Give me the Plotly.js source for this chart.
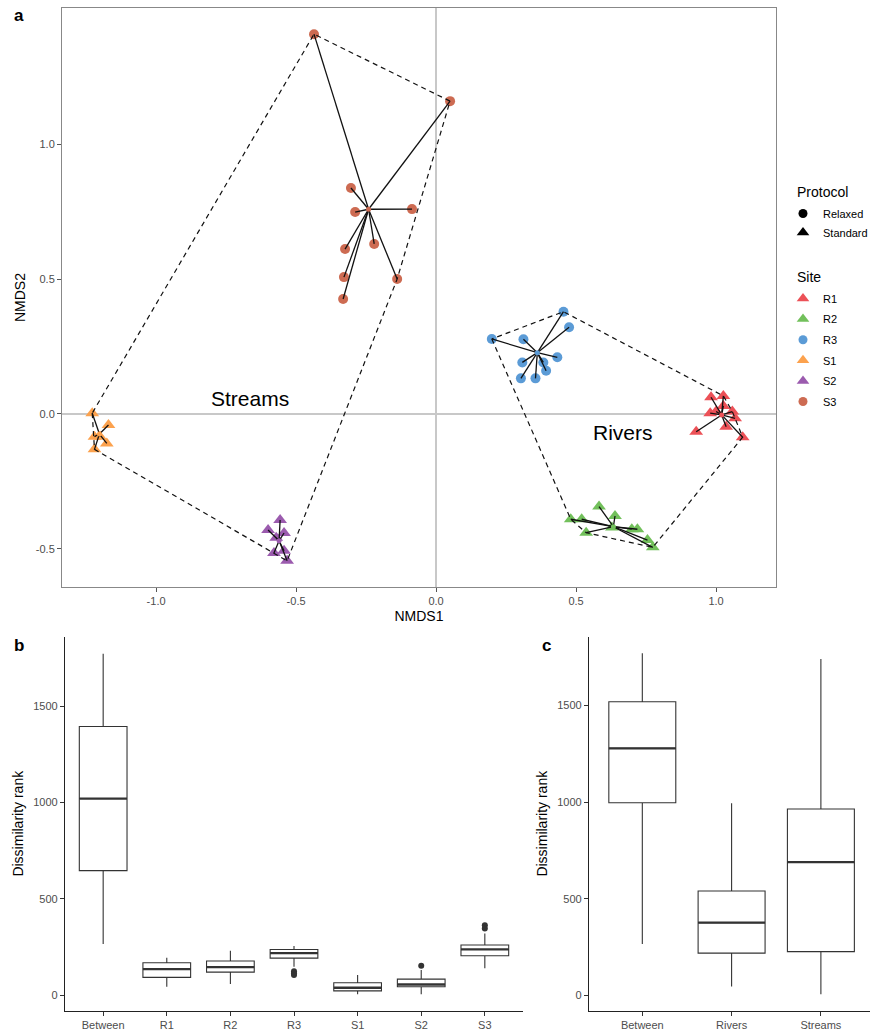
<!DOCTYPE html>
<html>
<head>
<meta charset="utf-8">
<script src="https://cdn.plot.ly/plotly-3.0.1.min.js"></script>
<style>html,body{margin:0;padding:0;background:#fff;}#chart{width:870px;height:1030px;}</style>
</head>
<body>
<div id="chart"></div>
<script>
// ---------- Panel a: NMDS ordination ----------
const siteNames = ['R1', 'R2', 'R3', 'S1', 'S2', 'S3'];
const siteColors = ['#EC5157', '#72C05B', '#5B9BD6', '#FCA24E', '#9B5BAE', '#CD6B52'];
const siteProtocol = ['Standard', 'Standard', 'Relaxed', 'Standard', 'Standard', 'Relaxed'];
const siteHabitat = ['Rivers', 'Rivers', 'Rivers', 'Streams', 'Streams', 'Streams'];
const protocolNames = ['Relaxed', 'Standard'];
const protocolSymbols = ['circle', 'triangle-up'];
const legendTitles = ['Protocol', 'Site'];

const r1X = [0.982, 1.026, 1.026, 0.979, 1.000, 1.058, 1.068, 1.036, 0.929, 1.095];
const r1Y = [0.062, 0.067, 0.030, 0.003, 0.009, 0.009, -0.016, -0.047, -0.066, -0.086];
const r2X = [0.582, 0.481, 0.520, 0.639, 0.536, 0.628, 0.699, 0.719, 0.755, 0.774];
const r2Y = [-0.343, -0.390, -0.390, -0.378, -0.440, -0.421, -0.427, -0.427, -0.467, -0.494];
const r3X = [0.455, 0.475, 0.199, 0.312, 0.433, 0.308, 0.383, 0.393, 0.303, 0.355];
const r3Y = [0.379, 0.321, 0.278, 0.277, 0.210, 0.191, 0.191, 0.160, 0.132, 0.132];
const s1X = [-1.228, -1.170, -1.220, -1.200, -1.176, -1.220];
const s1Y = [0.003, -0.041, -0.084, -0.084, -0.109, -0.131];
const s2X = [-0.557, -0.600, -0.543, -0.571, -0.579, -0.543, -0.532];
const s2Y = [-0.393, -0.430, -0.441, -0.459, -0.515, -0.507, -0.544];
const s3X = [-0.436, 0.050, -0.304, -0.289, -0.086, -0.325, -0.221, -0.329, -0.139, -0.332];
const s3Y = [1.407, 1.159, 0.837, 0.748, 0.759, 0.611, 0.630, 0.507, 0.500, 0.426];

const habitatLabels = ['Streams', 'Rivers'];
const habitatLabelX = [-0.664, 0.668];
const habitatLabelY = [0.059, -0.070];

const nmdsXTicks = [-1.0, -0.5, 0.0, 0.5, 1.0];
const nmdsXTickText = ['-1.0', '-0.5', '0.0', '0.5', '1.0'];
const nmdsYTicks = [-0.5, 0.0, 0.5, 1.0];
const nmdsYTickText = ['-0.5', '0.0', '0.5', '1.0'];

// ---------- Panel b: dissimilarity rank by site ----------
const boxBCats = ['Between', 'R1', 'R2', 'R3', 'S1', 'S2', 'S3'];
const boxBLower = [265, 43, 57, 147, 5, 5, 139];
const boxBQ1 = [646, 92, 119, 192, 22, 43, 204];
const boxBMedian = [1020, 135, 145, 218, 38, 55, 237];
const boxBQ3 = [1394, 168, 177, 237, 64, 83, 260];
const boxBUpper = [1772, 194, 230, 255, 104, 130, 320];
const outBCats = ['R3', 'R3', 'R3', 'S2', 'S3', 'S3'];
const outBVals = [124, 114, 104, 152, 362, 345];

// ---------- Panel c: dissimilarity rank by habitat ----------
const boxCCats = ['Between', 'Rivers', 'Streams'];
const boxCLower = [266, 45, 5];
const boxCQ1 = [997, 218, 226];
const boxCMedian = [1279, 376, 690];
const boxCQ3 = [1520, 540, 965];
const boxCUpper = [1771, 994, 1742];

const rankTicks = [0, 500, 1000, 1500];

// ---------- helpers ----------
const siteX = [r1X, r2X, r3X, s1X, s2X, s3X];
const siteY = [r1Y, r2Y, r3Y, s1Y, s2Y, s3Y];
const mean = a => a.reduce((s, v) => s + v, 0) / a.length;

function convexHull(pts) {
  const p = pts.slice().sort((a, b) => a[0] - b[0] || a[1] - b[1]);
  const cross = (o, a, b) => (a[0] - o[0]) * (b[1] - o[1]) - (a[1] - o[1]) * (b[0] - o[0]);
  const lower = [], upper = [];
  for (const q of p) {
    while (lower.length >= 2 && cross(lower[lower.length - 2], lower[lower.length - 1], q) <= 0) lower.pop();
    lower.push(q);
  }
  for (let i = p.length - 1; i >= 0; i--) {
    const q = p[i];
    while (upper.length >= 2 && cross(upper[upper.length - 2], upper[upper.length - 1], q) <= 0) upper.pop();
    upper.push(q);
  }
  upper.pop(); lower.pop();
  return lower.concat(upper);
}

const FONT = 'Liberation Sans, Arial, sans-serif';
const CIRCLE_SIZE = 10, TRI_SIZE = 12;
const traces = [];

// points
siteNames.forEach((s, i) => {
  const sym = protocolSymbols[protocolNames.indexOf(siteProtocol[i])];
  traces.push({
    type: 'scatter', mode: 'markers', x: siteX[i], y: siteY[i], xaxis: 'x', yaxis: 'y',
    marker: { color: siteColors[i], symbol: sym, size: sym === 'circle' ? CIRCLE_SIZE : TRI_SIZE, line: { width: 0 } },
    showlegend: false, hoverinfo: 'skip'
  });
});

// spider segments
const spX = [], spY = [], cenX = [], cenY = [], cenC = [];
siteNames.forEach((s, i) => {
  const cx = mean(siteX[i]), cy = mean(siteY[i]);
  cenX.push(cx); cenY.push(cy); cenC.push(siteColors[i]);
  siteX[i].forEach((x, j) => { spX.push(cx, x, null); spY.push(cy, siteY[i][j], null); });
});
traces.push({
  type: 'scatter', mode: 'lines', x: spX, y: spY, xaxis: 'x', yaxis: 'y',
  line: { color: '#111', width: 1.3 }, showlegend: false, hoverinfo: 'skip'
});

// hulls
habitatLabels.forEach(h => {
  const pts = [];
  siteNames.forEach((s, i) => {
    if (siteHabitat[i] === h) siteX[i].forEach((x, j) => pts.push([x, siteY[i][j]]));
  });
  const hull = convexHull(pts);
  hull.push(hull[0]);
  traces.push({
    type: 'scatter', mode: 'lines', x: hull.map(p => p[0]), y: hull.map(p => p[1]), xaxis: 'x', yaxis: 'y',
    line: { color: '#111', width: 1.2, dash: '5px,4px' }, showlegend: false, hoverinfo: 'skip'
  });
});

// centroids
traces.push({
  type: 'scatter', mode: 'markers', x: cenX, y: cenY, xaxis: 'x', yaxis: 'y',
  marker: { color: cenC, size: 5 }, showlegend: false, hoverinfo: 'skip'
});

// legend: protocol
protocolNames.forEach((p, k) => {
  traces.push({
    type: 'scatter', mode: 'markers', x: [null], y: [null], xaxis: 'x', yaxis: 'y',
    name: p, legend: 'legend', legendgroup: 'p' + k,
    marker: { color: '#000', symbol: protocolSymbols[k], size: protocolSymbols[k] === 'circle' ? 9 : 11 },
    showlegend: true, hoverinfo: 'skip'
  });
});
// legend: site
siteNames.forEach((s, i) => {
  const sym = protocolSymbols[protocolNames.indexOf(siteProtocol[i])];
  traces.push({
    type: 'scatter', mode: 'markers', x: [null], y: [null], xaxis: 'x', yaxis: 'y',
    name: s, legend: 'legend2', legendgroup: 's' + i,
    marker: { color: siteColors[i], symbol: sym, size: sym === 'circle' ? 9 : 11 },
    showlegend: true, hoverinfo: 'skip'
  });
});

// box panels
function addBoxPanel(cats, lo, q1, med, q3, hi, xa, ya) {
  const idx = cats.map((c, i) => i);
  traces.push({
    type: 'box', x: idx, q1: q1, median: med, q3: q3, lowerfence: lo, upperfence: hi,
    xaxis: xa, yaxis: ya, width: 0.75, fillcolor: '#fff',
    line: { color: '#333', width: 1.1 }, whiskerwidth: 0, boxpoints: false,
    showlegend: false, hoverinfo: 'skip'
  });
  const mx = [], my = [];
  idx.forEach(i => { mx.push(i - 0.375, i + 0.375, null); my.push(med[i], med[i], null); });
  traces.push({
    type: 'scatter', mode: 'lines', x: mx, y: my, xaxis: xa, yaxis: ya,
    line: { color: '#333', width: 2.3 }, showlegend: false, hoverinfo: 'skip'
  });
}
addBoxPanel(boxBCats, boxBLower, boxBQ1, boxBMedian, boxBQ3, boxBUpper, 'x2', 'y2');
traces.push({
  type: 'scatter', mode: 'markers', x: outBCats.map(c => boxBCats.indexOf(c)), y: outBVals,
  xaxis: 'x2', yaxis: 'y2', marker: { color: '#333', size: 6 }, showlegend: false, hoverinfo: 'skip'
});
addBoxPanel(boxCCats, boxCLower, boxCQ1, boxCMedian, boxCQ3, boxCUpper, 'x3', 'y3');

const tickFont = { family: FONT, size: 11, color: '#4D4D4D' };
const titleFont = { family: FONT, size: 14, color: '#000' };
const legendFont = { family: FONT, size: 11, color: '#000' };

const layout = {
  width: 870, height: 1030,
  margin: { l: 0, r: 0, t: 0, b: 0, autoexpand: false },
  paper_bgcolor: '#fff', plot_bgcolor: '#fff',
  font: { family: FONT },
  showlegend: true,
  xaxis: {
    domain: [62 / 870, 776 / 870], anchor: 'y', range: [-1.336, 1.214],
    tickvals: nmdsXTicks, ticktext: nmdsXTickText, ticks: 'outside', ticklen: 4, tickcolor: '#555',
    showgrid: false, zeroline: true, zerolinecolor: '#C8C8C8', zerolinewidth: 1.5,
    showline: true, mirror: true, linecolor: '#888', linewidth: 1,
    tickfont: tickFont, title: { text: 'NMDS1', font: titleFont, standoff: 4 }
  },
  yaxis: {
    domain: [1 - 587 / 1030, 1 - 8 / 1030], anchor: 'x', range: [-0.641, 1.504],
    tickvals: nmdsYTicks, ticktext: nmdsYTickText, ticks: 'outside', ticklen: 4, tickcolor: '#555',
    showgrid: false, zeroline: true, zerolinecolor: '#C8C8C8', zerolinewidth: 1.5,
    showline: true, mirror: true, linecolor: '#888', linewidth: 1,
    tickfont: tickFont, title: { text: 'NMDS2', font: titleFont, standoff: 6 }
  },
  xaxis2: {
    domain: [65 / 870, 523 / 870], anchor: 'y2', range: [-0.6, 6.6],
    tickvals: boxBCats.map((c, i) => i), ticktext: boxBCats, ticks: 'outside', ticklen: 4, tickcolor: '#333',
    showgrid: false, zeroline: false, showline: true, linecolor: '#222', linewidth: 1.1,
    tickfont: tickFont
  },
  yaxis2: {
    domain: [1 - 1010.7 / 1030, 1 - 636.7 / 1030], anchor: 'x2', range: [-81, 1860],
    tickvals: rankTicks, ticks: 'outside', ticklen: 4, tickcolor: '#333',
    showgrid: false, zeroline: false, showline: true, linecolor: '#222', linewidth: 1.1,
    tickfont: tickFont, title: { text: 'Dissimilarity rank', font: titleFont, standoff: 6 }
  },
  xaxis3: {
    domain: [589 / 870, 1], anchor: 'y3', range: [-0.597, 2.55],
    tickvals: boxCCats.map((c, i) => i), ticktext: boxCCats, ticks: 'outside', ticklen: 4, tickcolor: '#333',
    showgrid: false, zeroline: false, showline: true, linecolor: '#222', linewidth: 1.1,
    tickfont: tickFont
  },
  yaxis3: {
    domain: [1 - 1010.7 / 1030, 1 - 636.7 / 1030], anchor: 'x3', range: [-80, 1857],
    tickvals: rankTicks, ticks: 'outside', ticklen: 4, tickcolor: '#333',
    showgrid: false, zeroline: false, showline: true, linecolor: '#222', linewidth: 1.1,
    tickfont: tickFont, title: { text: 'Dissimilarity rank', font: titleFont, standoff: 6 }
  },
  legend: {
    x: 783 / 870, y: 1 - 199 / 1030, xanchor: 'left', yanchor: 'top',
    font: legendFont, bgcolor: 'rgba(0,0,0,0)', itemwidth: 30, tracegroupgap: 0
  },
  legend2: {
    x: 783 / 870, y: 1 - 284 / 1030, xanchor: 'left', yanchor: 'top',
    font: legendFont, bgcolor: 'rgba(0,0,0,0)', itemwidth: 30, tracegroupgap: 1.6
  },
  annotations: [
    ...habitatLabels.map((h, i) => ({
      text: h, x: habitatLabelX[i], y: habitatLabelY[i], xref: 'x', yref: 'y',
      showarrow: false, font: { family: FONT, size: 21, color: '#000' }
    })),
    { text: legendTitles[0], x: 795 / 870, y: 1 - 192 / 1030, xref: 'paper', yref: 'paper', xanchor: 'left', yanchor: 'middle', showarrow: false, font: { family: FONT, size: 14, color: '#000' } },
    { text: legendTitles[1], x: 795 / 870, y: 1 - 277 / 1030, xref: 'paper', yref: 'paper', xanchor: 'left', yanchor: 'middle', showarrow: false, font: { family: FONT, size: 14, color: '#000' } },
    { text: '<b>a</b>', x: 12 / 870, y: 1 - 4 / 1030, xref: 'paper', yref: 'paper', xanchor: 'left', yanchor: 'top', showarrow: false, font: { family: FONT, size: 17, color: '#000' } },
    { text: '<b>b</b>', x: 12 / 870, y: 1 - 634 / 1030, xref: 'paper', yref: 'paper', xanchor: 'left', yanchor: 'top', showarrow: false, font: { family: FONT, size: 17, color: '#000' } },
    { text: '<b>c</b>', x: 540 / 870, y: 1 - 634 / 1030, xref: 'paper', yref: 'paper', xanchor: 'left', yanchor: 'top', showarrow: false, font: { family: FONT, size: 17, color: '#000' } }
  ]
};

Plotly.newPlot('chart', traces, layout, { staticPlot: true, displayModeBar: false });
</script>
</body>
</html>
